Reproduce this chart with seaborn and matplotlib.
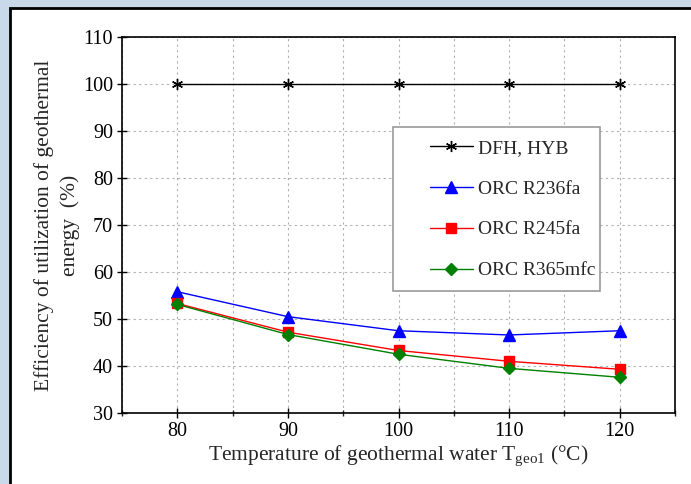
import matplotlib
matplotlib.use("Agg")
import matplotlib.pyplot as plt
import seaborn as sns
import pandas as pd
from matplotlib.patches import Rectangle
from matplotlib.ticker import MultipleLocator

temps = [80, 90, 100, 110, 120]
dfh_hyb = [100, 100, 100, 100, 100]
orc_r236fa = [55.8, 50.5, 47.5, 46.6, 47.5]
orc_r245fa = [53.3, 47.2, 43.3, 41.0, 39.3]
orc_r365mfc = [53.1, 46.7, 42.5, 39.5, 37.6]
series_names = ["DFH, HYB", "ORC R236fa", "ORC R245fa", "ORC R365mfc"]

df = pd.DataFrame({
    "T": temps * 4,
    "eff": dfh_hyb + orc_r236fa + orc_r245fa + orc_r365mfc,
    "series": [n for n in series_names for _ in temps],
})

sns.set_theme(style="white")
plt.rcParams["font.family"] = ["Liberation Serif", "DejaVu Serif"]
plt.rcParams["mathtext.fontset"] = "custom"
plt.rcParams["mathtext.rm"] = "Liberation Serif"
plt.rcParams["mathtext.it"] = "Liberation Serif"

W, H = 691, 484
fig = plt.figure(figsize=(W / 100, H / 100), dpi=100)
fig.patch.set_facecolor("#c9d9ea")
frame = Rectangle((10 / W, -0.01), 1, 1 - 8 / H + 0.01, transform=fig.transFigure,
                  facecolor="white", edgecolor="black", linewidth=2.0, zorder=-5)
fig.add_artist(frame)

x0, x1, y0, y1 = 122, 675, 37, 413
ax = fig.add_axes([x0 / W, 1 - y1 / H, (x1 - x0) / W, (y1 - y0) / H])
ax.set_facecolor("white")

palette = {"DFH, HYB": "black", "ORC R236fa": "blue", "ORC R245fa": "red", "ORC R365mfc": "green"}
markers = {"DFH, HYB": (6, 2, 0), "ORC R236fa": "^", "ORC R245fa": "s", "ORC R365mfc": "D"}
sizes = {"DFH, HYB": 8, "ORC R236fa": 8, "ORC R245fa": 6.5, "ORC R365mfc": 6}

for name in series_names:
    sub = df[df["series"] == name]
    sns.lineplot(data=sub, x="T", y="eff", ax=ax, color=palette[name], marker=markers[name],
                 markersize=sizes[name], markeredgecolor=palette[name], markeredgewidth=1.0,
                 linewidth=1.0, label=name)

ax.set_xlim(75, 125)
ax.set_ylim(30, 110)
ax.xaxis.set_major_locator(MultipleLocator(10))
ax.xaxis.set_minor_locator(MultipleLocator(5))
ax.yaxis.set_major_locator(MultipleLocator(10))
ax.grid(True, which="both", axis="x", linestyle=(0, (2, 3)), color="#b0b0b0", linewidth=0.8)
ax.grid(True, which="major", axis="y", linestyle=(0, (2, 3)), color="#b0b0b0", linewidth=0.8)
ax.tick_params(axis="both", which="major", direction="inout", length=7, width=1, labelsize=14.5,
               colors="black", bottom=True, left=True, top=False, right=False, pad=3)
ax.tick_params(axis="x", which="minor", direction="inout", length=5, width=1, bottom=True)
for s in ax.spines.values():
    s.set_color("black")
    s.set_linewidth(1.2)

ax.set_xlabel("Temperature of geothermal water T$_{geo1}$ (°C)", fontsize=15.5, labelpad=2)
ax.set_ylabel("Efficiency of utilization of geothermal\nenergy  (%)", fontsize=15.5,
              labelpad=2, linespacing=1.45)

# legend box
def axfrac(px, py):
    return (px - x0) / (x1 - x0), (y1 - py) / (y1 - y0)

bl = axfrac(393, 291)
tr = axfrac(600, 127)
ax.add_patch(Rectangle(bl, tr[0] - bl[0], tr[1] - bl[1], transform=ax.transAxes,
                       facecolor="white", edgecolor="#999999", linewidth=1.2, zorder=4))
leg = ax.legend(loc="upper left", bbox_to_anchor=axfrac(430, 139),
                frameon=False, fontsize=14, labelspacing=1.2,
                borderpad=0, handlelength=2.2, handletextpad=0.25, borderaxespad=0)
leg.set_zorder(5)

fig.savefig("out.png", dpi=100, facecolor=fig.get_facecolor())
